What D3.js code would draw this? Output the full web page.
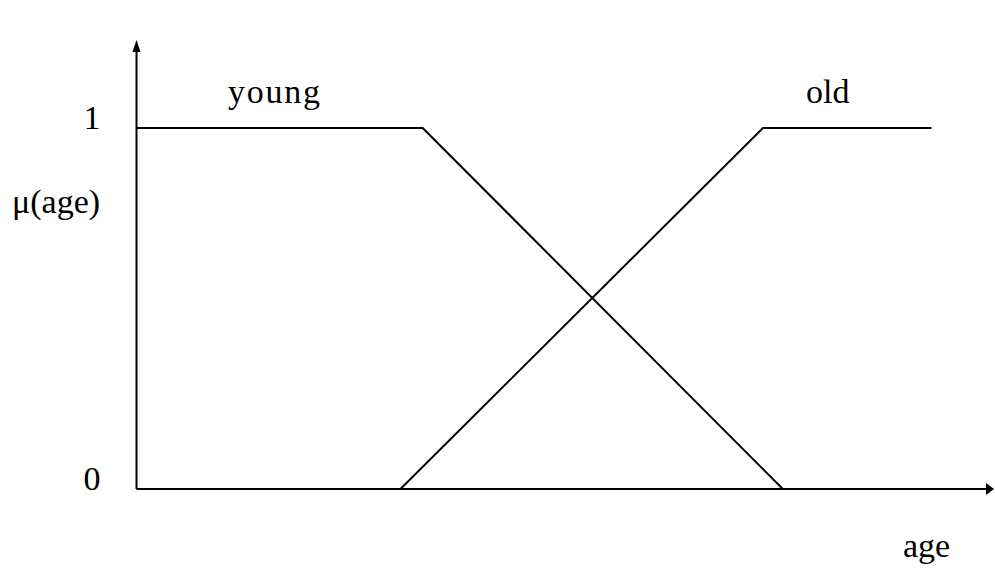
<!DOCTYPE html>
<html>
<head>
<meta charset="utf-8">
<script src="https://cdn.jsdelivr.net/npm/d3@7"></script>
<style>
  html, body { margin: 0; padding: 0; background: #fff; }
  svg text { font-family: "Liberation Serif", "Times New Roman", serif; fill: #000; }
</style>
</head>
<body>
<svg id="chart" width="995" height="573"></svg>
<script>
// Data: membership functions (age, membership)
const youngAge = [0, 36, 81.3];
const youngMu  = [1, 1, 0];
const oldAge   = [33.2, 78.8, 100];
const oldMu    = [0, 1, 1];
const yTickValues = [0, 1];
const yTickLabels = ["0", "1"];
const seriesLabels = ["young", "old"];
const yAxisTitle = "\u03bc(age)";
const xAxisTitle = "age";

const svg = d3.select("#chart");
const x = d3.scaleLinear().domain([0, 100]).range([136.5, 931.5]);
const y = d3.scaleLinear().domain([0, 1]).range([489, 128]);

const xMax = x.invert(994);
const yMax = y.invert(40);

// axes
svg.append("line")
  .attr("x1", x(0)).attr("x2", x(xMax) - 6)
  .attr("y1", y(0)).attr("y2", y(0))
  .attr("stroke", "#000").attr("stroke-width", 2);
svg.append("line")
  .attr("x1", x(0)).attr("x2", x(0))
  .attr("y1", y(0)).attr("y2", y(yMax) + 8)
  .attr("stroke", "#000").attr("stroke-width", 2);

// arrowheads
const ax = x(xMax), ay = y(0);
svg.append("path")
  .attr("d", `M${ax},${ay} L${ax - 8},${ay - 6} L${ax - 8},${ay + 6} Z`)
  .attr("fill", "#000");
const tx = x(0), ty = y(yMax);
svg.append("path")
  .attr("d", `M${tx},${ty} L${tx - 4},${ty + 12} L${tx + 4},${ty + 12} Z`)
  .attr("fill", "#000");

// series
const line = d3.line().x(d => x(d[0])).y(d => y(d[1]));
const youngData = youngAge.map((a, i) => [a, youngMu[i]]);
const oldData = oldAge.map((a, i) => [a, oldMu[i]]);
[youngData, oldData].forEach(d => {
  svg.append("path").datum(d)
    .attr("d", line)
    .attr("fill", "none")
    .attr("stroke", "#000")
    .attr("stroke-width", 2);
});

// y tick labels
svg.selectAll("text.ytick").data(yTickValues).enter().append("text")
  .attr("class", "ytick")
  .attr("x", 92)
  .attr("y", d => y(d) + 1)
  .attr("text-anchor", "middle")
  .attr("font-size", 34)
  .text((d, i) => yTickLabels[i]);

// axis titles
svg.append("text")
  .attr("x", 12).attr("y", 213)
  .attr("font-size", 34)
  .text(yAxisTitle);
svg.append("text")
  .attr("x", 903).attr("y", 557)
  .attr("font-size", 34)
  .text(xAxisTitle);

// series labels
svg.append("text")
  .attr("x", 228).attr("y", 103)
  .attr("font-size", 34)
  .attr("textLength", 92)
  .text(seriesLabels[0]);
svg.append("text")
  .attr("x", 806).attr("y", 103)
  .attr("font-size", 34)
  .text(seriesLabels[1]);
</script>
</body>
</html>
